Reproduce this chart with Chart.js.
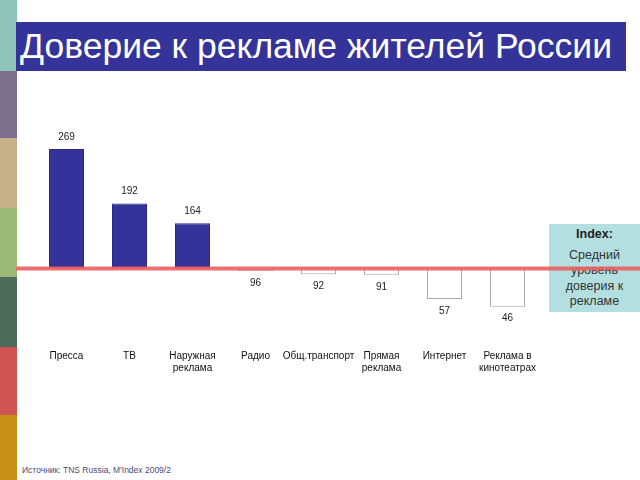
<!DOCTYPE html>
<html>
<head>
<meta charset="utf-8">
<script src="https://cdn.jsdelivr.net/npm/chart.js@4/dist/chart.umd.min.js"></script>
<style>
  body { margin: 0; width: 640px; height: 480px; position: relative; background: #fff; overflow: hidden; font-family: Arial, "Liberation Sans", sans-serif; }
  .strip { position: absolute; left: 0; width: 17px; }
  #title { position: absolute; left: 16px; top: 22px; width: 610px; height: 49px; background: #333399; color: #fff; font-size: 35.5px; line-height: 49px; padding-left: 4px; box-sizing: border-box; white-space: nowrap; }
  #indexBox { position: absolute; left: 549px; top: 224px; width: 91px; height: 88px; background: #b3dfe0; color: #333; text-align: center; font-size: 12.5px; line-height: 15.5px; }
  #indexBox b { display: block; margin-top: 3px; margin-bottom: 5px; color: #222; }
  #source { position: absolute; left: 22px; top: 465px; font-size: 8.5px; color: #4a4a7a; }
  #wrap { position: absolute; left: 0; top: 0; width: 640px; height: 480px; z-index: 2; pointer-events: none; }
</style>
</head>
<body>
<div class="strip" style="top:0;height:71px;background:#8fc4b8"></div>
<div class="strip" style="top:71px;height:67px;background:#7c6f8c"></div>
<div class="strip" style="top:138px;height:70px;background:#c6b189"></div>
<div class="strip" style="top:208px;height:69px;background:#9db97a"></div>
<div class="strip" style="top:277px;height:70px;background:#4d6b5b"></div>
<div class="strip" style="top:347px;height:68px;background:#d05353"></div>
<div class="strip" style="top:415px;height:65px;background:#c88f18"></div>

<div id="title">Доверие к рекламе жителей России</div>
<div id="indexBox"><b>Index:</b>Средний<br>уровень<br>доверия к<br>рекламе</div>
<div id="source">Источник: TNS Russia, M'Index 2009/2</div>

<div id="wrap"><canvas id="myChart" width="640" height="480"></canvas></div>

<script>
let categories = ['Пресса', 'ТВ', ['Наружная', 'реклама'], 'Радио', 'Общ.транспорт', ['Прямая', 'реклама'], 'Интернет', ['Реклама в', 'кинотеатрах']]
let values = [269, 192, 164, 96, 92, 91, 57, 46]
let baseIndex = 100

let bars = values.map(v => [baseIndex, v])
let fills = values.map(v => v > baseIndex ? '#333399' : '#ffffff')
let borders = values.map(v => v > baseIndex ? '#2a2a88' : '#a8a8a8')

// подписи значений над/под столбцами
const valueLabels = {
  id: 'valueLabels',
  afterDatasetsDraw(chart) {
    let ctx = chart.ctx
    let meta = chart.getDatasetMeta(0)
    let y = chart.scales.y
    ctx.save()
    ctx.font = '10px Arial, "Liberation Sans", sans-serif'
    ctx.fillStyle = '#222'
    ctx.textAlign = 'center'
    ctx.textBaseline = 'middle'
    for (let i = 0; i < values.length; i++) {
      let x = meta.data[i].x
      let py = y.getPixelForValue(values[i])
      if (values[i] > baseIndex) {
        ctx.fillText(values[i], x, py - 12)
      } else {
        ctx.fillText(values[i], x, py + 12)
      }
    }
    ctx.restore()
  }
}

// красная линия среднего уровня
const indexLine = {
  id: 'indexLine',
  afterDraw(chart) {
    let ctx = chart.ctx
    let py = chart.scales.y.getPixelForValue(baseIndex)
    ctx.save()
    ctx.strokeStyle = 'rgba(235, 95, 95, 0.9)'
    ctx.lineWidth = 4
    ctx.beginPath()
    ctx.moveTo(16, py)
    ctx.lineTo(640, py)
    ctx.stroke()
    ctx.restore()
  }
}

const ctx = document.getElementById('myChart').getContext('2d')
const myChart = new Chart(ctx, {
  type: 'bar',
  data: {
    labels: categories,
    datasets: [{
      data: bars,
      backgroundColor: fills,
      borderColor: borders,
      borderWidth: 1,
      borderSkipped: false,
      barPercentage: 0.556,
      categoryPercentage: 1
    }]
  },
  options: {
    responsive: false,
    animation: false,
    layout: { padding: { left: 35, right: 101, top: 113, bottom: 98 } },
    plugins: { legend: { display: false }, tooltip: { enabled: false } },
    scales: {
      x: {
        grid: { display: false, drawTicks: false },
        border: { display: false },
        ticks: {
          padding: 8,
          maxRotation: 0,
          autoSkip: false,
          color: '#111',
          font: { family: 'Arial, "Liberation Sans", sans-serif', size: 10 }
        }
      },
      y: {
        display: false,
        min: -4,
        max: 320
      }
    }
  },
  plugins: [valueLabels, indexLine]
})
</script>
</body>
</html>
